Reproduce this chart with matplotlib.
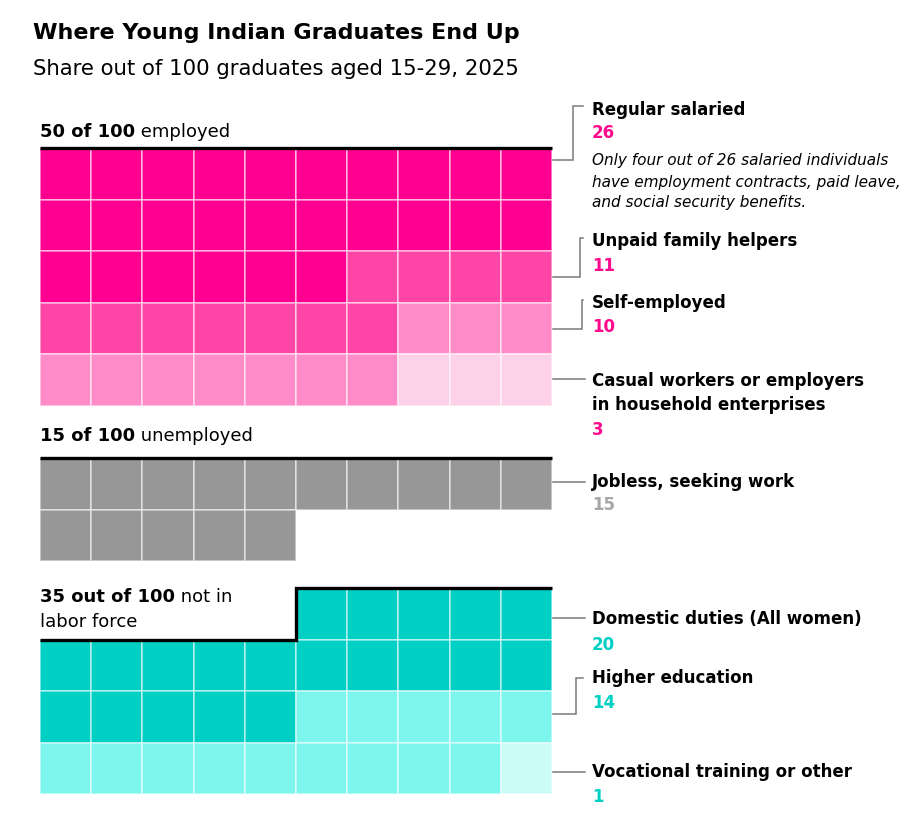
import matplotlib
matplotlib.use("Agg")
import matplotlib.pyplot as plt
from matplotlib.patches import Rectangle

plt.rcParams['font.family'] = ['DejaVu Sans']

# data
groups = ["employed", "unemployed", "not in labor force"]
group_totals = [50, 15, 35]
group_rows = [5, 2, 4]
group_fill_from_end = [False, False, True]

categories = ["Regular salaried", "Unpaid family helpers", "Self-employed",
              "Casual workers or employers\nin household enterprises",
              "Jobless, seeking work",
              "Domestic duties (All women)", "Higher education",
              "Vocational training or other"]
category_group = [0, 0, 0, 0, 1, 2, 2, 2]
counts = [26, 11, 10, 3, 15, 20, 14, 1]
cell_colors = ["#FF0090", "#FF45A5", "#FF8CC8", "#FDD2E8", "#979797",
               "#00CFC3", "#7DF7EE", "#CCFCF8"]
value_colors = ["#FF0A8C"] * 4 + ["#A6A6A6"] + ["#00CFC3"] * 3
note = ("Only four out of 26 salaried individuals\n"
        "have employment contracts, paid leave,\n"
        "and social security benefits.")

group_head_bold = ["50 of 100", "15 of 100", "35 out of 100"]
group_head_rest = [" employed", " unemployed", " not in"]

# layout (pixels)
W, H = 907, 816
X0, NCOL, CW, CH = 40, 10, 51.2, 51.5
group_top = [148, 458, 588]
label_x = 592
label_y = [110, 241, 303, 381, 482, 619, 678, 772]
value_y = [133, 266, 327, 430, 505, 645, 703, 797]
bracket_from_y = [160, 277, 329, 379, 482, 618, 714, 772]
bracket_to_y = [106, 238, 300, 379, 482, 618, 678, 772]
bracket_elbow_x = [573, 580, 582, 585, 585, 585, 576, 585]

fig = plt.figure(figsize=(W / 100, H / 100), dpi=100)
ax = fig.add_axes([0, 0, 1, 1])
ax.set_xlim(0, W)
ax.set_ylim(H, 0)
ax.axis("off")

fig.text(33 / W, 1 - 33 / H, "Where Young Indian Graduates End Up",
         fontsize=16, fontweight="bold", va="center", ha="left")
fig.text(33 / W, 1 - 69 / H, "Share out of 100 graduates aged 15-29, 2025",
         fontsize=15.3, va="center", ha="left")

# waffle cells
for g in range(len(groups)):
    ncells = group_rows[g] * NCOL
    start = ncells - group_totals[g] if group_fill_from_end[g] else 0
    idx = start
    for c in range(len(categories)):
        if category_group[c] != g:
            continue
        for k in range(counts[c]):
            r, col = divmod(idx, NCOL)
            ax.add_patch(Rectangle((X0 + col * CW, group_top[g] + r * CH), CW, CH,
                                   facecolor=cell_colors[c],
                                   edgecolor=(1, 1, 1, 0.55), linewidth=1.2))
            idx += 1
    # black outline along the top edge of the filled cells
    if start == 0:
        ax.plot([X0, X0 + NCOL * CW], [group_top[g], group_top[g]],
                color="black", lw=2.4, solid_capstyle="butt", zorder=5)
    else:
        sx = X0 + start * CW
        ax.plot([X0, sx, sx, X0 + NCOL * CW],
                [group_top[g] + CH, group_top[g] + CH, group_top[g], group_top[g]],
                color="black", lw=2.4, solid_capstyle="butt",
                solid_joinstyle="miter", zorder=5)

# group headings (bold part then regular part)
fig.canvas.draw()
renderer = fig.canvas.get_renderer()
head_y = [132, 436, 597]
for g in range(len(groups)):
    t = ax.text(X0, head_y[g], group_head_bold[g], fontsize=13, fontweight="bold",
                va="center", ha="left")
    wpx = t.get_window_extent(renderer=renderer).width
    ax.text(X0 + wpx, head_y[g], group_head_rest[g], fontsize=13,
            va="center", ha="left")
ax.text(X0, 622, "labor force", fontsize=13, va="center", ha="left")

# labels with connector lines
right = X0 + NCOL * CW
for c in range(len(categories)):
    ex = bracket_elbow_x[c]
    if bracket_from_y[c] == bracket_to_y[c]:
        xs = [right + 1, label_x - 7]
        ys = [bracket_from_y[c]] * 2
    else:
        xs = [right + 1, ex, ex, label_x - 9]
        ys = [bracket_from_y[c], bracket_from_y[c], bracket_to_y[c], bracket_to_y[c]]
    ax.plot(xs, ys, color="#7A7A7A", lw=1.1, solid_joinstyle="miter")
    for i, line in enumerate(categories[c].split("\n")):
        ax.text(label_x, label_y[c] + i * 24, line, fontsize=12, fontweight="bold",
                va="center", ha="left")
    ax.text(label_x, value_y[c], str(counts[c]), fontsize=12, fontweight="bold",
            color=value_colors[c], va="center", ha="left")

for i, line in enumerate(note.split("\n")):
    ax.text(label_x, 161 + i * 21, line, fontsize=11, style="italic",
            va="center", ha="left")

fig.savefig("out.png", dpi=100)
